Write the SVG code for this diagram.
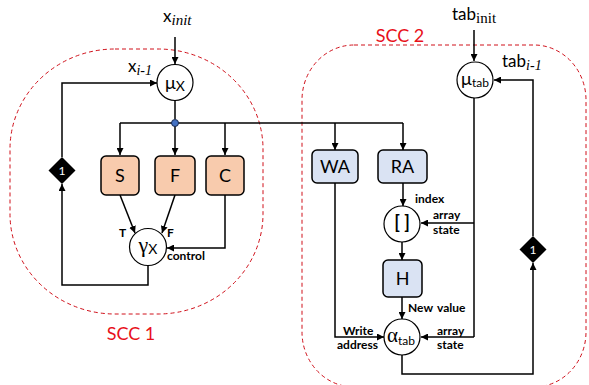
<svg xmlns="http://www.w3.org/2000/svg" width="589" height="385" viewBox="0 0 589 385">
<defs>
<marker id="ah" viewBox="0 0 10 10" refX="10" refY="5" markerWidth="7" markerHeight="7" markerUnits="userSpaceOnUse" orient="auto">
<path d="M0,0 L10,5 L0,10 z" fill="#000"/>
</marker>
</defs>
<style>
.c{stroke:#000;stroke-width:1.5;fill:none;marker-end:url(#ah)}
.l{stroke:#000;stroke-width:1.5;fill:none}
.scc{fill:none;stroke:#d0101a;stroke-width:1;stroke-dasharray:4 3}
.sccl{font-family:Lato,'Open Sans',sans-serif;font-size:18px;fill:#e8101a;text-anchor:middle}
.or{fill:#f8cbad;stroke:#000;stroke-width:1.5}
.bl{fill:#dae3f3;stroke:#000;stroke-width:1.5}
.ci{fill:#fff;stroke:#000;stroke-width:1.2}
.nt{font-family:Lato,'Open Sans',sans-serif;font-size:18px;fill:#000;text-anchor:middle}
.sm{font-family:Lato,'Open Sans',sans-serif;font-size:12px;font-weight:bold;fill:#000}
.lb{font-family:Lato,'Open Sans',sans-serif;font-size:17px;fill:#000}
.sr{font-family:'Liberation Serif',serif}
.dm{fill:#000}
.dt{font-family:Lato,sans-serif;font-size:12px;fill:#fff;text-anchor:middle}
</style>
<rect class="scc" x="10" y="49" width="253" height="265" rx="105" ry="100"/>
<text class="sccl" x="131" y="340">SCC 1</text>
<rect class="scc" x="302" y="45" width="284" height="342" rx="52" ry="55"/>
<text class="sccl" x="400" y="42">SCC 2</text>
<text class="lb" x="163" y="22">x<tspan class="sr" font-style="italic" font-size="15" dy="3">init</tspan></text>
<text class="lb" x="128" y="72">x<tspan class="sr" font-style="italic" font-size="14" dy="3">i-1</tspan></text>
<text class="lb" x="452" y="20">tab<tspan class="sr" font-size="15" dy="3">init</tspan></text>
<text class="lb" x="502" y="67">tab<tspan class="sr" font-style="italic" font-size="14" dy="3">i-1</tspan></text>
<g id="connectors">
<path class="c" d="M175,37 V64"/>
<path class="c" d="M62,157 V83 H157"/>
<path class="l" d="M175,100 V119"/>
<path class="l" d="M120,123 H403" stroke-width="1.8"/>
<path class="c" d="M120,123 V155"/>
<path class="c" d="M175,123 V155"/>
<path class="c" d="M225,123 V155"/>
<path class="c" d="M335,123 V150"/>
<path class="c" d="M403,123 V150"/>
<path class="c" d="M120,195 L135,233"/>
<path class="c" d="M175,195 L162,233"/>
<path class="c" d="M225,195 V248 H167"/>
<path class="c" d="M148,266 V285 H62 V184"/>
<path class="c" d="M474,30 V61"/>
<path class="c" d="M533,236 V80 H494"/>
<path class="l" d="M474,98 V337"/>
<path class="c" d="M474,223 H421"/>
<path class="c" d="M474,337 H421"/>
<path class="c" d="M403,183 V206"/>
<path class="c" d="M402,242 V260"/>
<path class="c" d="M402,297 V319"/>
<path class="c" d="M335,183 V337 H384"/>
<path class="c" d="M402,355 V374 H533 V263"/>
</g>
<g id="dot"><circle cx="175" cy="123" r="3.5" fill="#4472c4" stroke="#1a2a50" stroke-width="1"/></g>
<g id="mux"><circle class="ci" cx="175" cy="82.5" r="18"/><text class="nt" x="175" y="89" font-size="20">μ<tspan font-size="14" dy="2">X</tspan></text></g>
<g id="S"><rect class="or" x="101" y="156" width="38" height="39" rx="5"/><text class="nt" x="120" y="182">S</text></g>
<g id="F"><rect class="or" x="155" y="156" width="40" height="39" rx="5"/><text class="nt" x="175" y="182">F</text></g>
<g id="C"><rect class="or" x="206" y="156" width="38" height="39" rx="5"/><text class="nt" x="225" y="182">C</text></g>
<g id="gamma"><circle class="ci" cx="148" cy="247" r="18.5"/><text class="nt" x="148" y="252"><tspan class="sr" font-size="22">γ</tspan><tspan font-size="14" dy="2">X</tspan></text></g>
<text class="sm" x="119" y="237" font-size="8">T</text>
<text class="sm" x="167" y="237" font-size="8">F</text>
<text class="sm" x="167" y="260" font-size="10">control</text>
<g id="d1"><path class="dm" d="M62,157 L75.5,170.5 L62,184 L48.5,170.5 z"/><text class="dt" x="62" y="175">1</text></g>
<g id="mutab"><circle class="ci" cx="475" cy="80" r="18"/><text class="nt" x="475" y="85" font-size="19">μ<tspan font-size="12" dy="2">tab</tspan></text></g>
<g id="WA"><rect class="bl" x="312" y="150" width="46" height="33" rx="5"/><text class="nt" x="335" y="173">WA</text></g>
<g id="RA"><rect class="bl" x="378" y="150" width="49" height="33" rx="5"/><text class="nt" x="402.5" y="173">RA</text></g>
<g id="idx"><circle class="ci" cx="402" cy="224" r="18"/><text class="nt" x="402" y="229" font-size="15" font-weight="bold">[ ]</text></g>
<text class="sm" x="415" y="203">index</text>
<text class="sm" x="433" y="219">array</text>
<text class="sm" x="433" y="234">state</text>
<g id="H"><rect class="bl" x="383" y="260" width="39" height="37" rx="5"/><text class="nt" x="402.5" y="285">H</text></g>
<text class="sm" x="408" y="312">New<tspan x="437">value</tspan></text>
<g id="alpha"><circle class="ci" cx="402" cy="337" r="18"/><text class="nt" x="401" y="342"><tspan class="sr" font-size="21">α</tspan><tspan font-size="12" dy="3">tab</tspan></text></g>
<text class="sm" x="343" y="335">Write</text>
<text class="sm" x="337" y="349">address</text>
<text class="sm" x="437" y="335">array</text>
<text class="sm" x="437" y="349">state</text>
<g id="d2"><path class="dm" d="M533,236 L546.5,249.5 L533,263 L519.5,249.5 z"/><text class="dt" x="533" y="254">1</text></g>
</svg>
